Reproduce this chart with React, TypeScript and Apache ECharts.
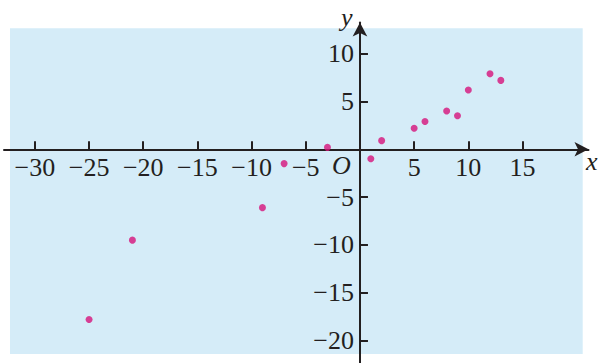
import React, { useEffect, useRef } from "react";
import * as echarts from "echarts";

const xTicks = [-30, -25, -20, -15, -10, -5, 5, 10, 15];
const yTicks = [10, 5, -5, -10, -15, -20];
const xValues = [-25, -21, -9, -7, -3, 1, 2, 5, 6, 8, 9, 10, 12, 13];
const yValues = [-17.8, -9.5, -6.1, -1.5, 0.2, -1.0, 0.9, 2.2, 2.9, 4.0, 3.5, 6.2, 7.9, 7.2];

const INK = "#231f20";
const SERIF = "Liberation Serif";
const fmt = (v: number) => (v < 0 ? "\u2212" + Math.abs(v) : String(v));

const GRID = { left: 4, right: 12.5, top: 22.5, bottom: 0 };
const X_MIN = -32.85, X_MAX = 21.09, Y_MIN = -22.34, Y_MAX = 13.25;
const W = 601, H = 363;
// pixel position of value 0 on each axis (used to place the crossing axes)
const plotW = W - GRID.left - GRID.right;
const plotH = H - GRID.top - GRID.bottom;
const zeroX = GRID.left + ((0 - X_MIN) / (X_MAX - X_MIN)) * plotW;
const zeroY = GRID.top + ((Y_MAX - 0) / (Y_MAX - Y_MIN)) * plotH;

export default function App() {
  const ref = useRef<HTMLDivElement>(null);
  useEffect(() => {
    if (!ref.current) return;
    const chart = echarts.init(ref.current, undefined, { renderer: "svg" });
    const points = xValues.map((x, i) => [x, yValues[i]]);
    chart.setOption({
      animation: false,
      backgroundColor: "#ffffff",
      grid: { ...GRID, containLabel: false, outerBoundsMode: "none" },
      xAxis: {
        type: "value",
        position: "bottom",
        offset: -(H - GRID.bottom - zeroY),
        min: X_MIN,
        max: X_MAX,
        splitLine: { show: false },
        axisLine: {
          onZero: false,
          symbol: ["none", "arrow"],
          symbolSize: [11, 14],
          lineStyle: { color: INK, width: 2 },
        },
        axisTick: { show: true, inside: true, length: 8, customValues: xTicks, lineStyle: { color: INK, width: 2 } },
        axisLabel: {
          customValues: xTicks,
          formatter: fmt,
          margin: 5,
          color: INK,
          fontFamily: SERIF,
          fontSize: 26,
        },
      },
      yAxis: {
        type: "value",
        position: "left",
        offset: -(zeroX - GRID.left),
        min: Y_MIN,
        max: Y_MAX,
        splitLine: { show: false },
        axisLine: {
          onZero: false,
          symbol: ["none", "arrow"],
          symbolSize: [11, 14],
          lineStyle: { color: INK, width: 2 },
        },
        axisTick: { show: true, inside: true, length: 8, customValues: yTicks, lineStyle: { color: INK, width: 2 } },
        axisLabel: {
          customValues: yTicks,
          formatter: fmt,
          margin: 6,
          color: INK,
          fontFamily: SERIF,
          fontSize: 26,
        },
      },
      graphic: [
        {
          type: "rect",
          z: -100,
          shape: { x: 10, y: 28.3, width: 572.7, height: 325.7 },
          style: { fill: "#d5ecf8" },
        },
        {
          type: "text",
          x: 341,
          y: 4,
          style: { text: "y", fill: INK, fontStyle: "italic", fontSize: 26, fontFamily: SERIF },
        },
        {
          type: "text",
          x: 586,
          y: 148,
          style: { text: "x", fill: INK, fontStyle: "italic", fontSize: 26, fontFamily: SERIF },
        },
        {
          type: "text",
          x: 332,
          y: 152,
          style: { text: "O", fill: INK, fontStyle: "italic", fontSize: 26, fontFamily: SERIF },
        },
      ],
      series: [
        {
          type: "scatter",
          data: points,
          symbol: "circle",
          symbolSize: 7,
          itemStyle: { color: "#d6137b" },
          z: 5,
        },
      ],
    });
    return () => chart.dispose();
  }, []);
  return <div ref={ref} style={{ width: W, height: H, position: "absolute", left: 0, top: 0 }} />;
}
